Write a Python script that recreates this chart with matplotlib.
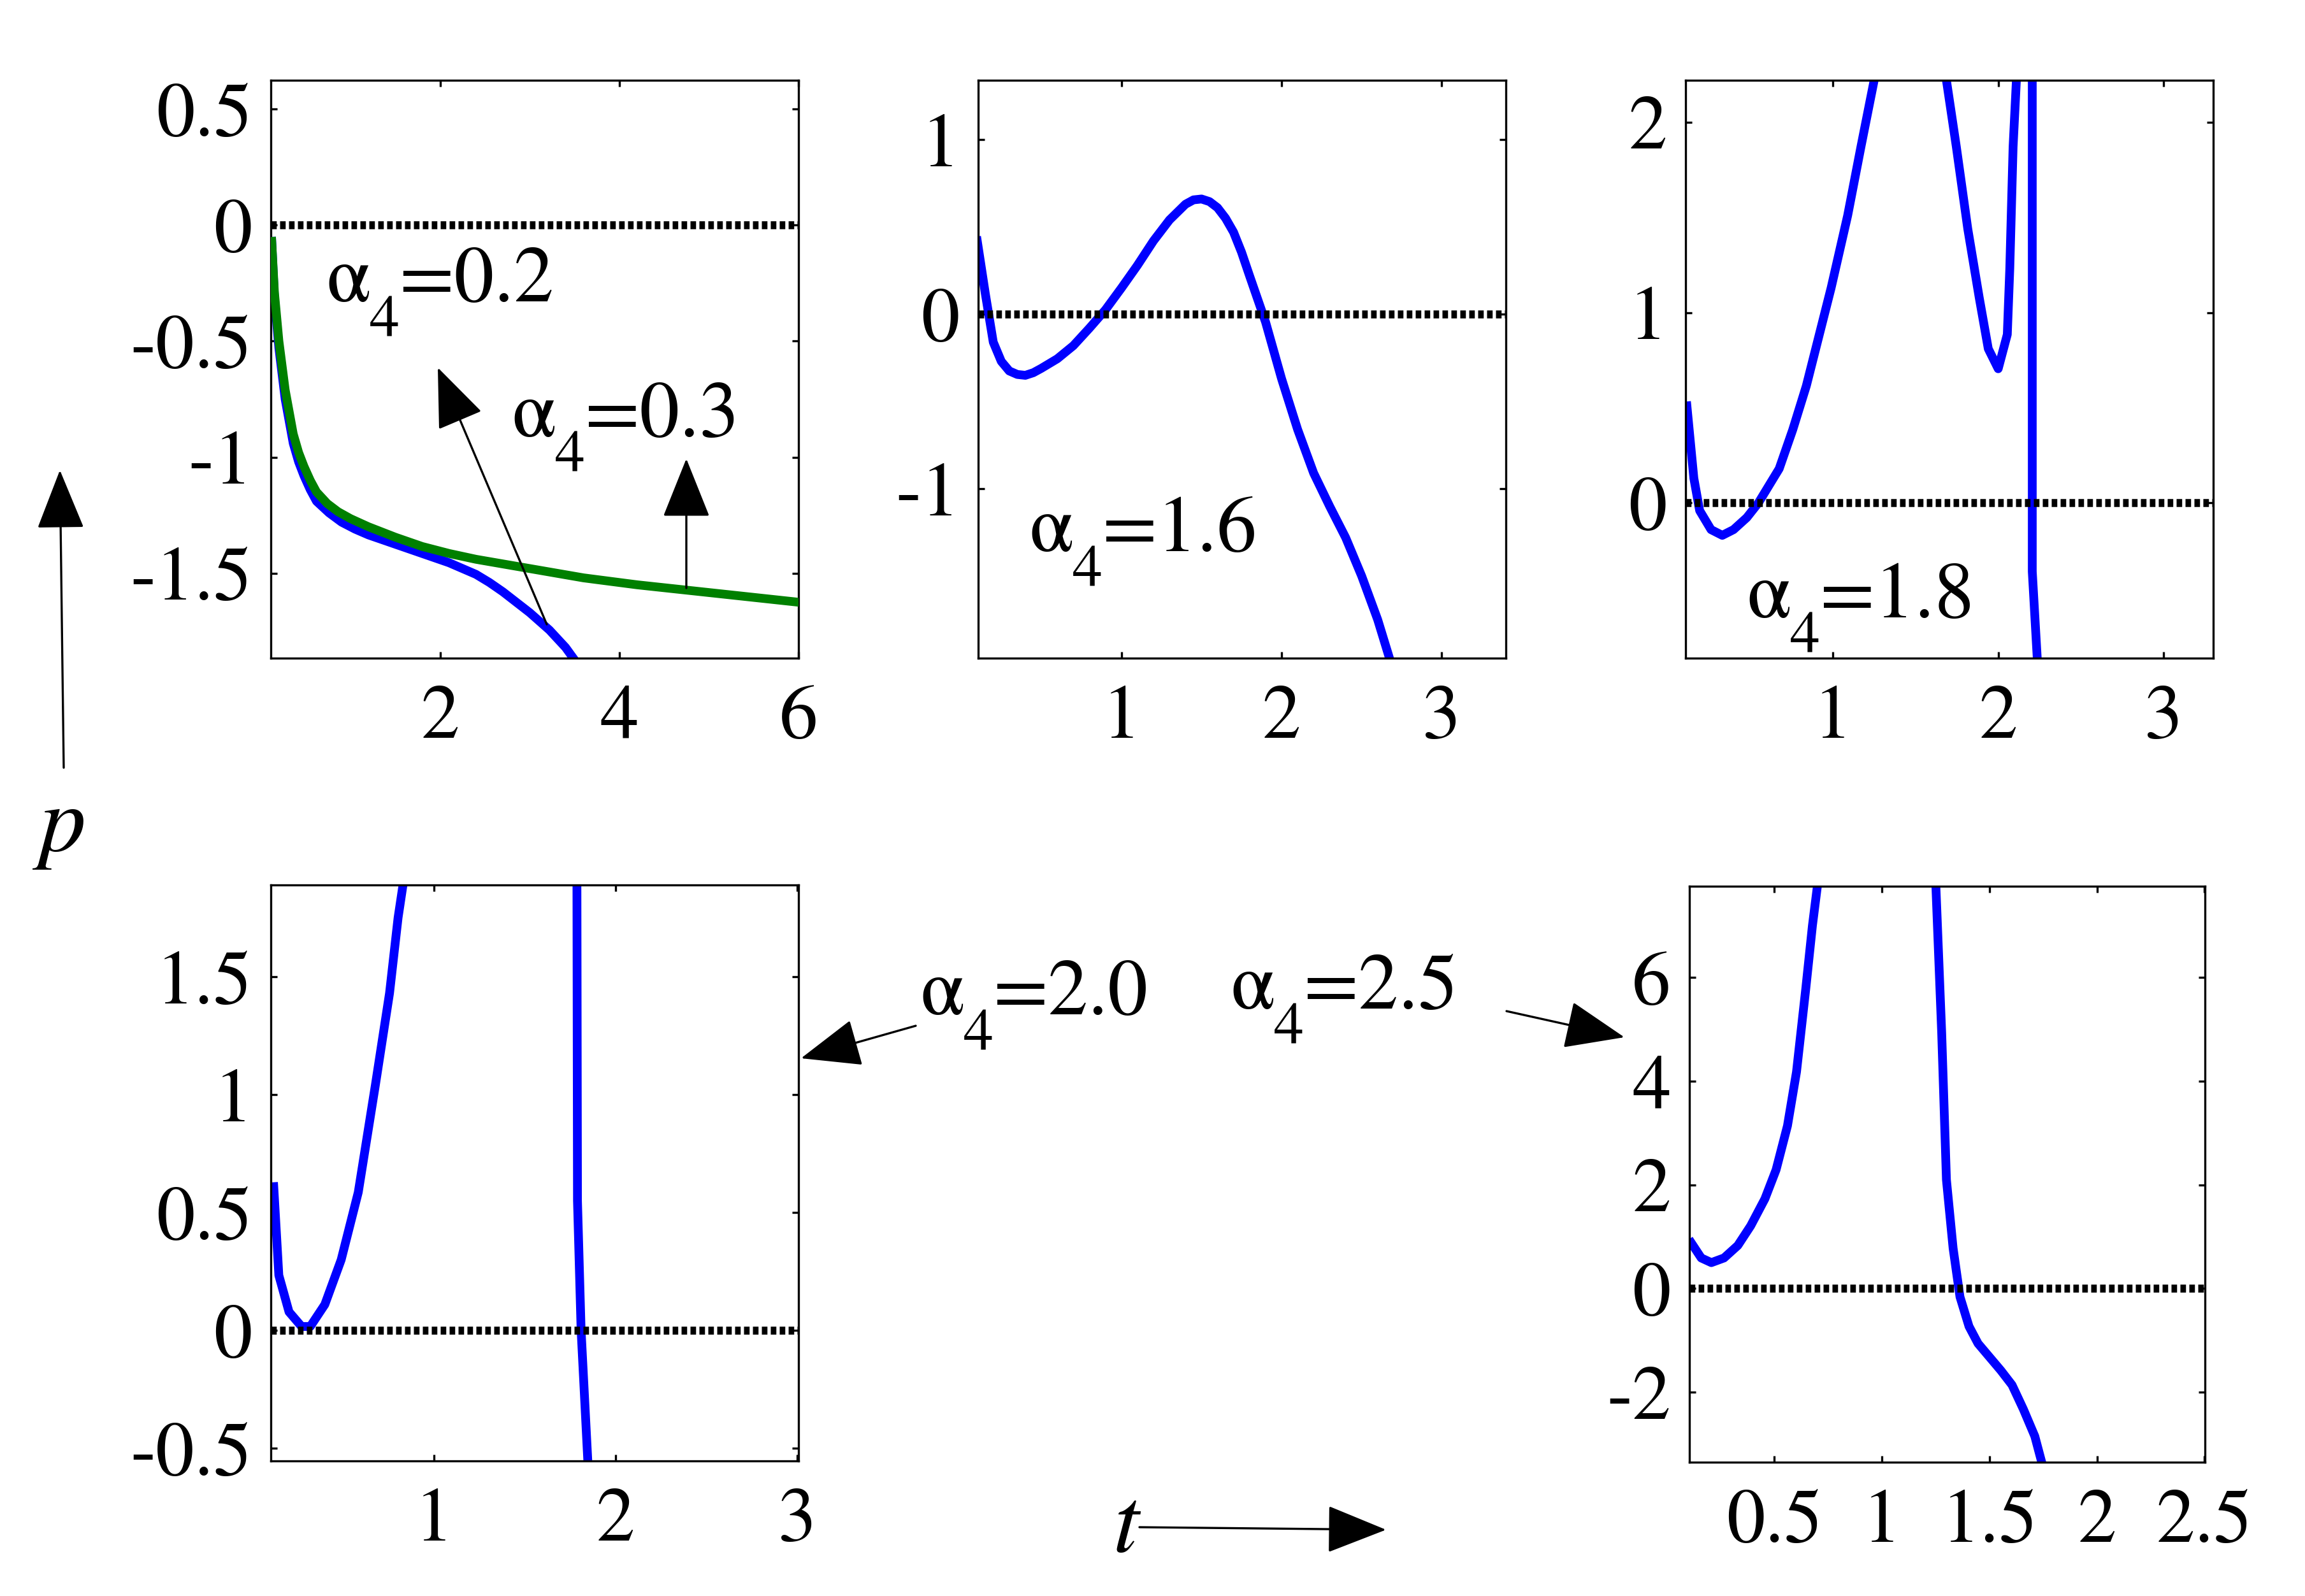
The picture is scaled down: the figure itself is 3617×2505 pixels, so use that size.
import matplotlib
matplotlib.use('Agg')
import matplotlib.pyplot as plt
from matplotlib.patches import FancyArrowPatch, ArrowStyle

# STIXGeneral ships with matplotlib and is a Times-like serif face
plt.rcParams['font.family'] = ['STIXGeneral', 'DejaVu Serif']
plt.rcParams['axes.unicode_minus'] = False

# ---------------- data ----------------
# panel 1 (alpha4 = 0.2 blue, alpha4 = 0.3 green)
p1_t_blue = [0.12, 0.15, 0.20, 0.27, 0.36, 0.42, 0.48, 0.55, 0.62, 0.76, 0.90, 1.05,
             1.20, 1.50, 1.80, 2.10, 2.40, 2.55, 2.70, 2.85, 3.00, 3.22, 3.40, 3.55]
p1_p_blue = [-0.07, -0.31, -0.53, -0.75, -0.94, -1.02, -1.08, -1.14, -1.19, -1.24,
             -1.28, -1.31, -1.335, -1.375, -1.415, -1.455, -1.505, -1.54, -1.58,
             -1.625, -1.67, -1.745, -1.82, -1.90]
p1_t_green = [0.12, 0.15, 0.20, 0.27, 0.36, 0.42, 0.48, 0.55, 0.62, 0.74, 0.86, 1.00,
              1.20, 1.50, 1.80, 2.10, 2.40, 3.00, 3.60, 4.20, 4.80, 5.40, 6.00]
p1_p_green = [-0.07, -0.29, -0.50, -0.71, -0.90, -0.98, -1.04, -1.10, -1.15, -1.20,
              -1.235, -1.265, -1.30, -1.345, -1.385, -1.415, -1.44, -1.48, -1.52, -1.55,
              -1.575, -1.60, -1.625]

# panel 2 (alpha4 = 1.6)
p2_t = [0.10, 0.15, 0.20, 0.25, 0.30, 0.35, 0.40, 0.45, 0.50, 0.60, 0.70, 0.80, 0.90,
        1.00, 1.10, 1.20, 1.30, 1.40, 1.45, 1.50, 1.55, 1.60, 1.65, 1.70, 1.75, 1.80,
        1.90, 2.00, 2.10, 2.20, 2.30, 2.40, 2.50, 2.60, 2.70]
p2_p = [0.42, 0.12, -0.16, -0.27, -0.325, -0.345, -0.35, -0.335, -0.31, -0.255, -0.18,
        -0.08, 0.025, 0.15, 0.28, 0.42, 0.54, 0.63, 0.655, 0.66, 0.645, 0.61, 0.55,
        0.47, 0.355, 0.22, -0.045, -0.37, -0.66, -0.91, -1.10, -1.28, -1.50, -1.75,
        -2.05]

# panel 3 (alpha4 = 1.8)
p3_t = [0.118, 0.16, 0.195, 0.264, 0.332, 0.40, 0.48, 0.55, 0.676, 0.758, 0.84, 0.923,
        0.99, 1.09, 1.17, 1.25, 1.33, 1.45, 1.62, 1.687, 1.747, 1.816, 1.885, 1.94,
        2.00, 2.055, 2.07, 2.09, 2.11, 2.15, 2.205, 2.206, 2.236, 2.26]
p3_p = [0.51, 0.13, -0.04, -0.14, -0.17, -0.14, -0.077, 0.0, 0.18, 0.385, 0.615, 0.90,
        1.13, 1.51, 1.87, 2.22, 2.60, 3.00, 2.55, 2.22, 1.87, 1.44, 1.08, 0.81,
        0.705, 0.885, 1.23, 1.87, 2.22, 3.50, 40.0, -0.36, -0.815, -1.20]

# panel 4 (alpha4 = 2.0)
p4_t = [0.119, 0.147, 0.203, 0.272, 0.32, 0.40, 0.49, 0.584, 0.678, 0.756, 0.803, 0.83,
        0.86, 1.30, 1.75, 1.787, 1.79, 1.81, 1.85]
p4_p = [0.61, 0.234, 0.079, 0.017, 0.017, 0.11, 0.30, 0.586, 1.04, 1.43, 1.75, 1.889,
        2.40, 10.0, 3.00, 1.90, 0.55, 0.0, -0.60]

# panel 5 (alpha4 = 2.5)
p5_t = [0.114, 0.16, 0.207, 0.266, 0.33, 0.39, 0.456, 0.508, 0.561, 0.603, 0.646, 0.677,
        0.70, 0.75, 1.00, 1.22, 1.251, 1.278, 1.30, 1.331, 1.363, 1.405, 1.447, 1.553,
        1.605, 1.658, 1.711, 1.743, 1.77]
p5_p = [0.88, 0.59, 0.50, 0.59, 0.83, 1.21, 1.73, 2.29, 3.14, 4.18, 5.78, 7.0,
        7.76, 10.0, 20.0, 10.0, 7.76, 4.93, 2.10, 0.78, -0.16, -0.73, -1.06, -1.58,
        -1.86, -2.33, -2.85, -3.35, -3.70]

zero_level = 0.0

# axis ranges and ticks
p1_xlim, p1_ylim = (0.11, 6.0), (-1.866, 0.624)
p2_xlim, p2_ylim = (0.106, 3.40), (-1.97, 1.34)
p3_xlim, p3_ylim = (0.11, 3.30), (-0.815, 2.22)
p4_xlim, p4_ylim = (0.103, 3.006), (-0.553, 1.889)
p5_xlim, p5_ylim = (0.105, 2.502), (-3.35, 7.76)

p1_xticks, p1_xlabels = [2, 4, 6], ['2', '4', '6']
p1_yticks, p1_ylabels = [-1.5, -1, -0.5, 0, 0.5], ['-1.5', '-1', '-0.5', '0', '0.5']
p2_xticks, p2_xlabels = [1, 2, 3], ['1', '2', '3']
p2_yticks, p2_ylabels = [-1, 0, 1], ['-1', '0', '1']
p3_xticks, p3_xlabels = [1, 2, 3], ['1', '2', '3']
p3_yticks, p3_ylabels = [0, 1, 2], ['0', '1', '2']
p4_xticks, p4_xlabels = [1, 2, 3], ['1', '2', '3']
p4_yticks, p4_ylabels = [-0.5, 0, 0.5, 1, 1.5], ['-0.5', '0', '0.5', '1', '1.5']
p5_xticks, p5_xlabels = [0.5, 1, 1.5, 2, 2.5], ['0.5', '1', '1.5', '2', '2.5']
p5_yticks, p5_ylabels = [-2, 0, 2, 4, 6], ['-2', '0', '2', '4', '6']

alpha_values = ['0.2', '0.3', '1.6', '1.8', '2.0', '2.5']

# ---------------- figure ----------------
W, H = 3617, 2505
DPI = 300
fig = plt.figure(figsize=(W / DPI, H / DPI), dpi=DPI)

BLUE = '#0000ff'
GREEN = '#008000'
LW = 3.3


def fx(x):
    return x / W


def fy(y):
    return 1 - y / H


def make_axes(l, r, t, b, xlim, ylim, xt, xl, yt, yl):
    ax = fig.add_axes([l / W, 1 - b / H, (r - l) / W, (b - t) / H])
    ax.set_xlim(*xlim)
    ax.set_ylim(*ylim)
    ax.set_xticks(xt)
    ax.set_xticklabels(xl)
    ax.set_yticks(yt)
    ax.set_yticklabels(yl)
    for sp in ax.spines.values():
        sp.set_linewidth(0.8)
    ax.tick_params(direction='in', length=2.4, width=0.8, top=True, right=True,
                   labelsize=29)
    ax.tick_params(axis='x', pad=10)
    ax.tick_params(axis='y', pad=7)
    return ax


def zero_line(ax):
    ax.axhline(zero_level, color='k', lw=3.0, linestyle=(0, (0.7, 0.42)), zorder=5)


ax1 = make_axes(425, 1253, 126, 1033, p1_xlim, p1_ylim, p1_xticks, p1_xlabels,
                p1_yticks, p1_ylabels)
ax1.plot(p1_t_blue, p1_p_blue, color=BLUE, lw=LW, zorder=2)
ax1.plot(p1_t_green, p1_p_green, color=GREEN, lw=LW, zorder=3)
zero_line(ax1)

ax2 = make_axes(1535, 2363, 126, 1033, p2_xlim, p2_ylim, p2_xticks, p2_xlabels,
                p2_yticks, p2_ylabels)
ax2.plot(p2_t, p2_p, color=BLUE, lw=LW)
zero_line(ax2)

ax3 = make_axes(2645, 3473, 126, 1033, p3_xlim, p3_ylim, p3_xticks, p3_xlabels,
                p3_yticks, p3_ylabels)
ax3.plot(p3_t, p3_p, color=BLUE, lw=LW)
zero_line(ax3)

ax4 = make_axes(425, 1253, 1389, 2293, p4_xlim, p4_ylim, p4_xticks, p4_xlabels,
                p4_yticks, p4_ylabels)
ax4.plot(p4_t, p4_p, color=BLUE, lw=LW)
zero_line(ax4)

ax5 = make_axes(2651, 3460, 1391, 2295, p5_xlim, p5_ylim, p5_xticks, p5_xlabels,
                p5_yticks, p5_ylabels)
ax5.plot(p5_t, p5_p, color=BLUE, lw=LW)
zero_line(ax5)

# ---------------- annotations ----------------
renderer = fig.canvas.get_renderer()
ASIZE = 30
SUB_DROP = 56  # pixels


def alpha_label(x, y, value):
    t1 = fig.text(fx(x), fy(y), '\u03b1', fontsize=ASIZE, va='baseline', ha='left')
    bb = t1.get_window_extent(renderer)
    t2 = fig.text(bb.x1 / W, fy(y + SUB_DROP), '4', fontsize=ASIZE * 0.75,
                  va='baseline', ha='left')
    bb2 = t2.get_window_extent(renderer)
    fig.text(bb2.x1 / W, fy(y), '=' + value, fontsize=ASIZE, va='baseline', ha='left')


label_pos = [(512, 473), (803, 685), (1615, 865), (2741, 969), (1444, 1592), (1931, 1583)]
for (lx, ly), val in zip(label_pos, alpha_values):
    alpha_label(lx, ly, val)


def arrow(x0, y0, x1, y1):
    a = FancyArrowPatch((fx(x0), fy(y0)), (fx(x1), fy(y1)), transform=fig.transFigure,
                        arrowstyle=ArrowStyle('-|>', head_length=20, head_width=8),
                        lw=0.8, color='k', shrinkA=0, shrinkB=0)
    fig.add_artist(a)


arrow(858, 980, 687, 577)      # alpha4 = 0.2
arrow(1077, 923, 1077, 720)    # alpha4 = 0.3
arrow(1437, 1610, 1257, 1661)  # alpha4 = 2.0
arrow(2364, 1587, 2549, 1628)  # alpha4 = 2.5
arrow(100, 1205, 94, 738)      # p axis
arrow(1788, 2397, 2175, 2401)  # t axis

fig.text(fx(99), fy(1300), 'p', fontsize=35, style='italic', ha='center', va='center')
fig.text(fx(1767), fy(2400), 't', fontsize=35, style='italic', ha='center', va='center')

fig.savefig('out.png', dpi=DPI, facecolor='white')
